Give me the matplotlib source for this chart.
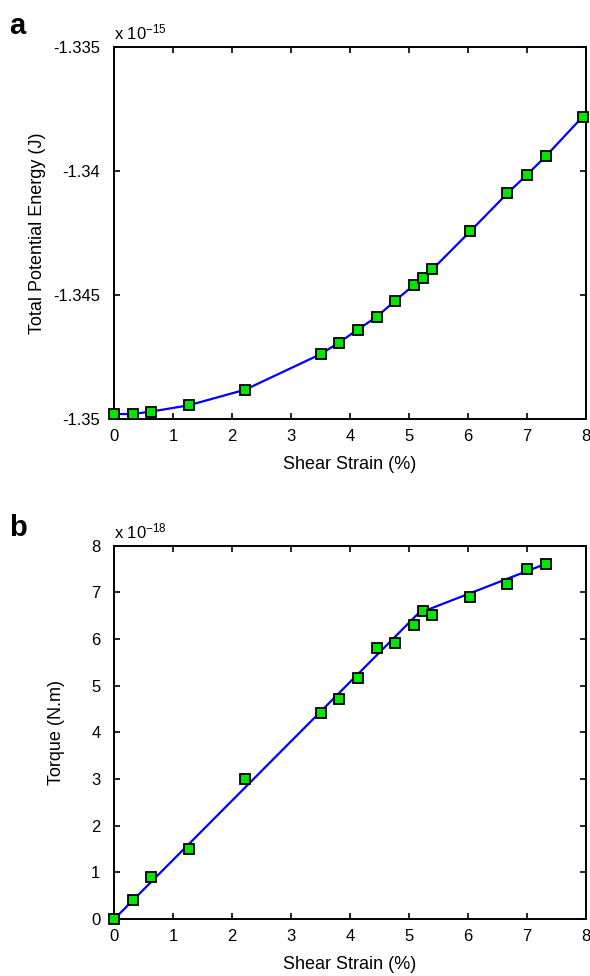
import matplotlib
matplotlib.use("Agg")
import matplotlib.pyplot as plt

plt.rcParams["font.family"] = ["Liberation Sans", "DejaVu Sans"]
plt.rcParams["axes.unicode_minus"] = False
plt.rcParams["mathtext.fontset"] = "custom"
plt.rcParams["mathtext.rm"] = "Liberation Sans"
plt.rcParams["mathtext.it"] = "Liberation Sans"

# shear strain (%)
strain = [0.0, 0.31, 0.63, 1.26, 2.22, 3.50, 3.81, 4.13, 4.45, 4.77,
          5.08, 5.24, 5.40, 6.04, 6.67, 7.00, 7.32, 7.95]
# total potential energy (x 1e-15 J)
energy = [-1.3498, -1.3498, -1.3497, -1.34945, -1.34882, -1.34739, -1.34693,
          -1.34640, -1.34589, -1.34523, -1.34461, -1.34431, -1.34397,
          -1.34244, -1.34091, -1.34017, -1.33942, -1.33782]

# torque (x 1e-18 N.m), one fewer point than energy
torque_strain = strain[:17]
torque = [0.0, 0.40, 0.90, 1.51, 3.01, 4.41, 4.71, 5.17, 5.81, 5.91,
          6.31, 6.61, 6.51, 6.91, 7.18, 7.51, 7.61]
# two-segment fit drawn through the torque points
fit_strain = [0.0, 5.16, 7.32]
fit_torque = [0.0, 6.55, 7.61]

x_ticks = [0, 1, 2, 3, 4, 5, 6, 7, 8]
e_ticks = [-1.35, -1.345, -1.34, -1.335]
e_labels = ["-1.35", "-1.345", "-1.34", "-1.335"]
t_ticks = [0, 1, 2, 3, 4, 5, 6, 7, 8]

fig = plt.figure(figsize=(5.9, 9.76), dpi=100)
ax1 = fig.add_axes([0.1937, 0.5707, 0.799, 0.3815])
ax2 = fig.add_axes([0.1937, 0.0584, 0.799, 0.3825])

marker_style = dict(marker="s", markersize=7, markerfacecolor="#00e600",
                    markeredgecolor="black", markeredgewidth=1.3)

ax1.plot(strain, energy, color="#0000ff", lw=1.6, zorder=2)
ax1.plot(strain, energy, ls="none", zorder=3, clip_on=False, **marker_style)
ax1.set_ylim(-1.35, -1.335)
ax1.set_yticks(e_ticks)
ax1.set_yticklabels(e_labels)
ax1.text(0.0, 1.012, r"x 10$^{-15}$", transform=ax1.transAxes, fontsize=12,
         ha="left", va="bottom")
ax1.set_ylabel("Total Potential Energy (J)", fontsize=13, labelpad=5)

ax2.plot(fit_strain, fit_torque, color="#0000ff", lw=1.6, zorder=2)
ax2.plot(torque_strain, torque, ls="none", zorder=3, clip_on=False, **marker_style)
ax2.set_ylim(0, 8)
ax2.set_yticks(t_ticks)
ax2.text(0.0, 1.012, r"x 10$^{-18}$", transform=ax2.transAxes, fontsize=12,
         ha="left", va="bottom")
ax2.set_ylabel("Torque (N.m)", fontsize=13, labelpad=19)

for ax in (ax1, ax2):
    ax.set_xlim(0, 8)
    ax.set_xticks(x_ticks)
    ax.set_xlabel("Shear Strain (%)", fontsize=13, labelpad=9)
    ax.tick_params(direction="in", length=4, width=1.2, labelsize=12,
                   top=True, right=True)
    ax.tick_params(axis="y", pad=10)
    ax.tick_params(axis="x", pad=7)
    for s in ax.spines.values():
        s.set_linewidth(1.4)

fig.text(0.015, 0.973, "a", fontsize=21, fontweight="bold", va="center")
fig.text(0.015, 0.459, "b", fontsize=21, fontweight="bold", va="center")

fig.savefig("out.png", dpi=100)
